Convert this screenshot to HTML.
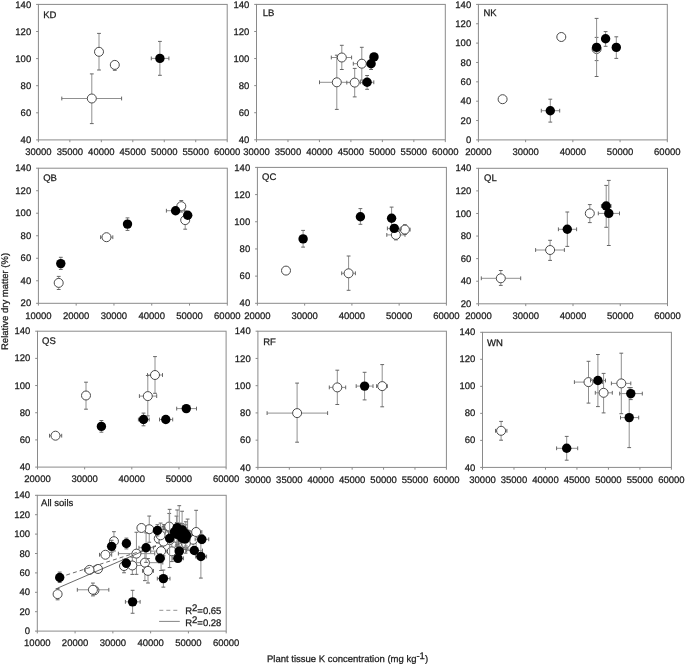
<!DOCTYPE html>
<html><head><meta charset="utf-8"><title>Relative dry matter vs plant tissue K</title>
<style>
html,body{margin:0;padding:0;background:#fff;}
body{width:685px;height:665px;overflow:hidden;}
svg{display:block;font-family:"Liberation Sans",sans-serif;text-rendering:geometricPrecision;will-change:transform;}
text{fill:#1a1a1a;stroke:#1a1a1a;stroke-width:0.25px;}
.ax{fill:none;stroke:#8a8a8a;stroke-width:1;}
.tk{stroke:#8a8a8a;stroke-width:1;}
.eb{stroke:#909090;stroke-width:1;}
.cp{stroke:#666666;stroke-width:1;}
.oc{fill:#fff;stroke:#4a4a4a;stroke-width:1;}
.fc{fill:#000;stroke:none;}
</style></head>
<body>
<svg width="685" height="665" viewBox="0 0 685 665">
<rect width="685" height="665" fill="#fff"/>
<rect x="38.4" y="4.4" width="188.8" height="135.5" class="ax"/>
<line x1="36.1" y1="139.9" x2="38.4" y2="139.9" class="tk"/>
<text x="31.2" y="143" text-anchor="end" font-size="9.5">40</text>
<line x1="36.1" y1="112.8" x2="38.4" y2="112.8" class="tk"/>
<text x="31.2" y="115.9" text-anchor="end" font-size="9.5">60</text>
<line x1="36.1" y1="85.7" x2="38.4" y2="85.7" class="tk"/>
<text x="31.2" y="88.8" text-anchor="end" font-size="9.5">80</text>
<line x1="36.1" y1="58.6" x2="38.4" y2="58.6" class="tk"/>
<text x="31.2" y="61.7" text-anchor="end" font-size="9.5">100</text>
<line x1="36.1" y1="31.5" x2="38.4" y2="31.5" class="tk"/>
<text x="31.2" y="34.6" text-anchor="end" font-size="9.5">120</text>
<line x1="36.1" y1="4.4" x2="38.4" y2="4.4" class="tk"/>
<text x="31.2" y="7.5" text-anchor="end" font-size="9.5">140</text>
<line x1="38.4" y1="139.9" x2="38.4" y2="142.2" class="tk"/>
<text x="38.4" y="155.1" text-anchor="middle" font-size="9.5">30000</text>
<line x1="69.87" y1="139.9" x2="69.87" y2="142.2" class="tk"/>
<text x="69.87" y="155.1" text-anchor="middle" font-size="9.5">35000</text>
<line x1="101.33" y1="139.9" x2="101.33" y2="142.2" class="tk"/>
<text x="101.33" y="155.1" text-anchor="middle" font-size="9.5">40000</text>
<line x1="132.8" y1="139.9" x2="132.8" y2="142.2" class="tk"/>
<text x="132.8" y="155.1" text-anchor="middle" font-size="9.5">45000</text>
<line x1="164.27" y1="139.9" x2="164.27" y2="142.2" class="tk"/>
<text x="164.27" y="155.1" text-anchor="middle" font-size="9.5">50000</text>
<line x1="195.73" y1="139.9" x2="195.73" y2="142.2" class="tk"/>
<text x="195.73" y="155.1" text-anchor="middle" font-size="9.5">55000</text>
<line x1="227.2" y1="139.9" x2="227.2" y2="142.2" class="tk"/>
<text x="227.2" y="155.1" text-anchor="middle" font-size="9.5">60000</text>
<text x="43.25" y="17.5" text-anchor="start" font-size="9.5">KD</text>
<line x1="99" y1="33.4" x2="99" y2="70" class="eb"/><line x1="97.1" y1="33.4" x2="100.9" y2="33.4" class="cp"/><line x1="97.1" y1="70" x2="100.9" y2="70" class="cp"/>
<line x1="114.8" y1="64.9" x2="114.8" y2="70.3" class="eb"/><line x1="112.9" y1="64.9" x2="116.7" y2="64.9" class="cp"/><line x1="112.9" y1="70.3" x2="116.7" y2="70.3" class="cp"/>
<line x1="91.8" y1="73.9" x2="91.8" y2="123.6" class="eb"/><line x1="89.9" y1="73.9" x2="93.7" y2="73.9" class="cp"/><line x1="89.9" y1="123.6" x2="93.7" y2="123.6" class="cp"/><line x1="61.8" y1="98.5" x2="121.6" y2="98.5" class="eb"/><line x1="61.8" y1="96.6" x2="61.8" y2="100.4" class="cp"/><line x1="121.6" y1="96.6" x2="121.6" y2="100.4" class="cp"/>
<circle cx="99" cy="51.8" r="4.5" class="oc"/>
<circle cx="114.8" cy="64.9" r="4.5" class="oc"/>
<circle cx="91.8" cy="98.5" r="4.5" class="oc"/>
<line x1="159.9" y1="41.4" x2="159.9" y2="75.3" class="eb"/><line x1="158" y1="41.4" x2="161.8" y2="41.4" class="cp"/><line x1="158" y1="75.3" x2="161.8" y2="75.3" class="cp"/><line x1="151.3" y1="58.4" x2="168.9" y2="58.4" class="eb"/><line x1="151.3" y1="56.5" x2="151.3" y2="60.3" class="cp"/><line x1="168.9" y1="56.5" x2="168.9" y2="60.3" class="cp"/>
<circle cx="159.9" cy="58.4" r="4.7" class="fc"/>
<rect x="256.5" y="4.4" width="188.8" height="135.4" class="ax"/>
<line x1="254.2" y1="139.8" x2="256.5" y2="139.8" class="tk"/>
<text x="249.3" y="142.9" text-anchor="end" font-size="9.5">40</text>
<line x1="254.2" y1="112.72" x2="256.5" y2="112.72" class="tk"/>
<text x="249.3" y="115.82" text-anchor="end" font-size="9.5">60</text>
<line x1="254.2" y1="85.64" x2="256.5" y2="85.64" class="tk"/>
<text x="249.3" y="88.74" text-anchor="end" font-size="9.5">80</text>
<line x1="254.2" y1="58.56" x2="256.5" y2="58.56" class="tk"/>
<text x="249.3" y="61.66" text-anchor="end" font-size="9.5">100</text>
<line x1="254.2" y1="31.48" x2="256.5" y2="31.48" class="tk"/>
<text x="249.3" y="34.58" text-anchor="end" font-size="9.5">120</text>
<line x1="254.2" y1="4.4" x2="256.5" y2="4.4" class="tk"/>
<text x="249.3" y="7.5" text-anchor="end" font-size="9.5">140</text>
<line x1="256.5" y1="139.8" x2="256.5" y2="142.1" class="tk"/>
<text x="256.5" y="155" text-anchor="middle" font-size="9.5">30000</text>
<line x1="287.97" y1="139.8" x2="287.97" y2="142.1" class="tk"/>
<text x="287.97" y="155" text-anchor="middle" font-size="9.5">35000</text>
<line x1="319.43" y1="139.8" x2="319.43" y2="142.1" class="tk"/>
<text x="319.43" y="155" text-anchor="middle" font-size="9.5">40000</text>
<line x1="350.9" y1="139.8" x2="350.9" y2="142.1" class="tk"/>
<text x="350.9" y="155" text-anchor="middle" font-size="9.5">45000</text>
<line x1="382.37" y1="139.8" x2="382.37" y2="142.1" class="tk"/>
<text x="382.37" y="155" text-anchor="middle" font-size="9.5">50000</text>
<line x1="413.83" y1="139.8" x2="413.83" y2="142.1" class="tk"/>
<text x="413.83" y="155" text-anchor="middle" font-size="9.5">55000</text>
<line x1="445.3" y1="139.8" x2="445.3" y2="142.1" class="tk"/>
<text x="445.3" y="155" text-anchor="middle" font-size="9.5">60000</text>
<text x="262.7" y="15.8" text-anchor="start" font-size="9.5">LB</text>
<line x1="336.8" y1="55.2" x2="336.8" y2="109.4" class="eb"/><line x1="334.9" y1="55.2" x2="338.7" y2="55.2" class="cp"/><line x1="334.9" y1="109.4" x2="338.7" y2="109.4" class="cp"/><line x1="319.5" y1="82.3" x2="354.1" y2="82.3" class="eb"/><line x1="319.5" y1="80.4" x2="319.5" y2="84.2" class="cp"/><line x1="354.1" y1="80.4" x2="354.1" y2="84.2" class="cp"/>
<line x1="341.8" y1="45.3" x2="341.8" y2="69.5" class="eb"/><line x1="339.9" y1="45.3" x2="343.7" y2="45.3" class="cp"/><line x1="339.9" y1="69.5" x2="343.7" y2="69.5" class="cp"/><line x1="331.3" y1="57.5" x2="351.6" y2="57.5" class="eb"/><line x1="331.3" y1="55.6" x2="331.3" y2="59.4" class="cp"/><line x1="351.6" y1="55.6" x2="351.6" y2="59.4" class="cp"/>
<line x1="354.7" y1="68.4" x2="354.7" y2="96.9" class="eb"/><line x1="352.8" y1="68.4" x2="356.6" y2="68.4" class="cp"/><line x1="352.8" y1="96.9" x2="356.6" y2="96.9" class="cp"/><line x1="346.8" y1="82.6" x2="362.6" y2="82.6" class="eb"/><line x1="346.8" y1="80.7" x2="346.8" y2="84.5" class="cp"/><line x1="362.6" y1="80.7" x2="362.6" y2="84.5" class="cp"/>
<line x1="361.8" y1="47.3" x2="361.8" y2="80.1" class="eb"/><line x1="359.9" y1="47.3" x2="363.7" y2="47.3" class="cp"/><line x1="359.9" y1="80.1" x2="363.7" y2="80.1" class="cp"/><line x1="353.3" y1="63.7" x2="370.3" y2="63.7" class="eb"/><line x1="353.3" y1="61.8" x2="353.3" y2="65.6" class="cp"/><line x1="370.3" y1="61.8" x2="370.3" y2="65.6" class="cp"/>
<circle cx="336.8" cy="82.3" r="4.5" class="oc"/>
<circle cx="341.8" cy="57.5" r="4.5" class="oc"/>
<circle cx="354.7" cy="82.6" r="4.5" class="oc"/>
<circle cx="361.8" cy="63.7" r="4.5" class="oc"/>
<line x1="367.1" y1="75.5" x2="367.1" y2="89.3" class="eb"/><line x1="365.2" y1="75.5" x2="369" y2="75.5" class="cp"/><line x1="365.2" y1="89.3" x2="369" y2="89.3" class="cp"/><line x1="360.4" y1="82.3" x2="373.8" y2="82.3" class="eb"/><line x1="360.4" y1="80.4" x2="360.4" y2="84.2" class="cp"/><line x1="373.8" y1="80.4" x2="373.8" y2="84.2" class="cp"/>
<line x1="371.1" y1="57.9" x2="371.1" y2="69.5" class="eb"/><line x1="369.2" y1="57.9" x2="373" y2="57.9" class="cp"/><line x1="369.2" y1="69.5" x2="373" y2="69.5" class="cp"/>

<circle cx="367.1" cy="82.3" r="4.7" class="fc"/>
<circle cx="371.1" cy="63.7" r="4.7" class="fc"/>
<circle cx="374" cy="56.9" r="4.7" class="fc"/>
<rect x="478.4" y="4.4" width="188.9" height="135.5" class="ax"/>
<line x1="476.1" y1="139.9" x2="478.4" y2="139.9" class="tk"/>
<text x="471.2" y="143" text-anchor="end" font-size="9.5">0</text>
<line x1="476.1" y1="120.54" x2="478.4" y2="120.54" class="tk"/>
<text x="471.2" y="123.64" text-anchor="end" font-size="9.5">20</text>
<line x1="476.1" y1="101.19" x2="478.4" y2="101.19" class="tk"/>
<text x="471.2" y="104.29" text-anchor="end" font-size="9.5">40</text>
<line x1="476.1" y1="81.83" x2="478.4" y2="81.83" class="tk"/>
<text x="471.2" y="84.93" text-anchor="end" font-size="9.5">60</text>
<line x1="476.1" y1="62.47" x2="478.4" y2="62.47" class="tk"/>
<text x="471.2" y="65.57" text-anchor="end" font-size="9.5">80</text>
<line x1="476.1" y1="43.11" x2="478.4" y2="43.11" class="tk"/>
<text x="471.2" y="46.21" text-anchor="end" font-size="9.5">100</text>
<line x1="476.1" y1="23.76" x2="478.4" y2="23.76" class="tk"/>
<text x="471.2" y="26.86" text-anchor="end" font-size="9.5">120</text>
<line x1="476.1" y1="4.4" x2="478.4" y2="4.4" class="tk"/>
<text x="471.2" y="7.5" text-anchor="end" font-size="9.5">140</text>
<line x1="478.4" y1="139.9" x2="478.4" y2="142.2" class="tk"/>
<text x="478.4" y="155.1" text-anchor="middle" font-size="9.5">20000</text>
<line x1="525.62" y1="139.9" x2="525.62" y2="142.2" class="tk"/>
<text x="525.62" y="155.1" text-anchor="middle" font-size="9.5">30000</text>
<line x1="572.85" y1="139.9" x2="572.85" y2="142.2" class="tk"/>
<text x="572.85" y="155.1" text-anchor="middle" font-size="9.5">40000</text>
<line x1="620.07" y1="139.9" x2="620.07" y2="142.2" class="tk"/>
<text x="620.07" y="155.1" text-anchor="middle" font-size="9.5">50000</text>
<line x1="667.3" y1="139.9" x2="667.3" y2="142.2" class="tk"/>
<text x="667.3" y="155.1" text-anchor="middle" font-size="9.5">60000</text>
<text x="483.5" y="15.8" text-anchor="start" font-size="9.5">NK</text>
<line x1="596.6" y1="37.4" x2="596.6" y2="60.6" class="eb"/><line x1="594.7" y1="37.4" x2="598.5" y2="37.4" class="cp"/><line x1="594.7" y1="60.6" x2="598.5" y2="60.6" class="cp"/>


<circle cx="596.6" cy="49" r="4.5" class="oc"/>
<circle cx="561.3" cy="37" r="4.5" class="oc"/>
<circle cx="502.6" cy="99.2" r="4.5" class="oc"/>
<line x1="596.6" y1="18.4" x2="596.6" y2="76.5" class="eb"/><line x1="594.7" y1="18.4" x2="598.5" y2="18.4" class="cp"/><line x1="594.7" y1="76.5" x2="598.5" y2="76.5" class="cp"/>
<line x1="605.6" y1="31.6" x2="605.6" y2="46.3" class="eb"/><line x1="603.7" y1="31.6" x2="607.5" y2="31.6" class="cp"/><line x1="603.7" y1="46.3" x2="607.5" y2="46.3" class="cp"/>
<line x1="616.3" y1="36.8" x2="616.3" y2="58.4" class="eb"/><line x1="614.4" y1="36.8" x2="618.2" y2="36.8" class="cp"/><line x1="614.4" y1="58.4" x2="618.2" y2="58.4" class="cp"/>
<line x1="550.3" y1="99.2" x2="550.3" y2="122.1" class="eb"/><line x1="548.4" y1="99.2" x2="552.2" y2="99.2" class="cp"/><line x1="548.4" y1="122.1" x2="552.2" y2="122.1" class="cp"/><line x1="541.3" y1="110.7" x2="559.7" y2="110.7" class="eb"/><line x1="541.3" y1="108.8" x2="541.3" y2="112.6" class="cp"/><line x1="559.7" y1="108.8" x2="559.7" y2="112.6" class="cp"/>
<circle cx="596.6" cy="47.4" r="4.7" class="fc"/>
<circle cx="605.6" cy="38.7" r="4.7" class="fc"/>
<circle cx="616.3" cy="47.4" r="4.7" class="fc"/>
<circle cx="550.3" cy="110.7" r="4.7" class="fc"/>
<rect x="38.4" y="168.2" width="188.9" height="135.1" class="ax"/>
<line x1="36.1" y1="303.3" x2="38.4" y2="303.3" class="tk"/>
<text x="31.2" y="306.4" text-anchor="end" font-size="9.5">20</text>
<line x1="36.1" y1="280.78" x2="38.4" y2="280.78" class="tk"/>
<text x="31.2" y="283.88" text-anchor="end" font-size="9.5">40</text>
<line x1="36.1" y1="258.27" x2="38.4" y2="258.27" class="tk"/>
<text x="31.2" y="261.37" text-anchor="end" font-size="9.5">60</text>
<line x1="36.1" y1="235.75" x2="38.4" y2="235.75" class="tk"/>
<text x="31.2" y="238.85" text-anchor="end" font-size="9.5">80</text>
<line x1="36.1" y1="213.23" x2="38.4" y2="213.23" class="tk"/>
<text x="31.2" y="216.33" text-anchor="end" font-size="9.5">100</text>
<line x1="36.1" y1="190.72" x2="38.4" y2="190.72" class="tk"/>
<text x="31.2" y="193.82" text-anchor="end" font-size="9.5">120</text>
<line x1="36.1" y1="168.2" x2="38.4" y2="168.2" class="tk"/>
<text x="31.2" y="171.3" text-anchor="end" font-size="9.5">140</text>
<line x1="38.4" y1="303.3" x2="38.4" y2="305.6" class="tk"/>
<text x="38.4" y="318.5" text-anchor="middle" font-size="9.5">10000</text>
<line x1="76.18" y1="303.3" x2="76.18" y2="305.6" class="tk"/>
<text x="76.18" y="318.5" text-anchor="middle" font-size="9.5">20000</text>
<line x1="113.96" y1="303.3" x2="113.96" y2="305.6" class="tk"/>
<text x="113.96" y="318.5" text-anchor="middle" font-size="9.5">30000</text>
<line x1="151.74" y1="303.3" x2="151.74" y2="305.6" class="tk"/>
<text x="151.74" y="318.5" text-anchor="middle" font-size="9.5">40000</text>
<line x1="189.52" y1="303.3" x2="189.52" y2="305.6" class="tk"/>
<text x="189.52" y="318.5" text-anchor="middle" font-size="9.5">50000</text>
<line x1="227.3" y1="303.3" x2="227.3" y2="305.6" class="tk"/>
<text x="227.3" y="318.5" text-anchor="middle" font-size="9.5">60000</text>
<text x="43.2" y="181.2" text-anchor="start" font-size="9.5">QB</text>
<line x1="181.3" y1="200.5" x2="181.3" y2="212" class="eb"/><line x1="179.4" y1="200.5" x2="183.2" y2="200.5" class="cp"/><line x1="179.4" y1="212" x2="183.2" y2="212" class="cp"/>
<line x1="185.2" y1="211" x2="185.2" y2="229.2" class="eb"/><line x1="183.3" y1="211" x2="187.1" y2="211" class="cp"/><line x1="183.3" y1="229.2" x2="187.1" y2="229.2" class="cp"/>
<line x1="100.6" y1="237.2" x2="112.8" y2="237.2" class="eb"/><line x1="100.6" y1="235.3" x2="100.6" y2="239.1" class="cp"/><line x1="112.8" y1="235.3" x2="112.8" y2="239.1" class="cp"/>
<line x1="58.7" y1="276.4" x2="58.7" y2="289.5" class="eb"/><line x1="56.8" y1="276.4" x2="60.6" y2="276.4" class="cp"/><line x1="56.8" y1="289.5" x2="60.6" y2="289.5" class="cp"/>
<circle cx="181.3" cy="206.2" r="4.5" class="oc"/>
<circle cx="185.2" cy="220.1" r="4.5" class="oc"/>
<circle cx="106.5" cy="237.2" r="4.5" class="oc"/>
<circle cx="58.7" cy="282.9" r="4.5" class="oc"/>
<line x1="166.4" y1="210.7" x2="184.8" y2="210.7" class="eb"/><line x1="166.4" y1="208.8" x2="166.4" y2="212.6" class="cp"/><line x1="184.8" y1="208.8" x2="184.8" y2="212.6" class="cp"/>

<line x1="127.5" y1="217.9" x2="127.5" y2="230.4" class="eb"/><line x1="125.6" y1="217.9" x2="129.4" y2="217.9" class="cp"/><line x1="125.6" y1="230.4" x2="129.4" y2="230.4" class="cp"/>
<line x1="60.8" y1="257.3" x2="60.8" y2="269.4" class="eb"/><line x1="58.9" y1="257.3" x2="62.7" y2="257.3" class="cp"/><line x1="58.9" y1="269.4" x2="62.7" y2="269.4" class="cp"/>
<circle cx="175.6" cy="210.7" r="4.7" class="fc"/>
<circle cx="187.7" cy="215.2" r="4.7" class="fc"/>
<circle cx="127.5" cy="224.1" r="4.7" class="fc"/>
<circle cx="60.8" cy="263.6" r="4.7" class="fc"/>
<rect x="257.4" y="167.4" width="189" height="135.9" class="ax"/>
<line x1="255.1" y1="303.3" x2="257.4" y2="303.3" class="tk"/>
<text x="250.2" y="306.4" text-anchor="end" font-size="9.5">40</text>
<line x1="255.1" y1="276.12" x2="257.4" y2="276.12" class="tk"/>
<text x="250.2" y="279.22" text-anchor="end" font-size="9.5">60</text>
<line x1="255.1" y1="248.94" x2="257.4" y2="248.94" class="tk"/>
<text x="250.2" y="252.04" text-anchor="end" font-size="9.5">80</text>
<line x1="255.1" y1="221.76" x2="257.4" y2="221.76" class="tk"/>
<text x="250.2" y="224.86" text-anchor="end" font-size="9.5">100</text>
<line x1="255.1" y1="194.58" x2="257.4" y2="194.58" class="tk"/>
<text x="250.2" y="197.68" text-anchor="end" font-size="9.5">120</text>
<line x1="255.1" y1="167.4" x2="257.4" y2="167.4" class="tk"/>
<text x="250.2" y="170.5" text-anchor="end" font-size="9.5">140</text>
<line x1="257.4" y1="303.3" x2="257.4" y2="305.6" class="tk"/>
<text x="257.4" y="318.5" text-anchor="middle" font-size="9.5">20000</text>
<line x1="304.65" y1="303.3" x2="304.65" y2="305.6" class="tk"/>
<text x="304.65" y="318.5" text-anchor="middle" font-size="9.5">30000</text>
<line x1="351.9" y1="303.3" x2="351.9" y2="305.6" class="tk"/>
<text x="351.9" y="318.5" text-anchor="middle" font-size="9.5">40000</text>
<line x1="399.15" y1="303.3" x2="399.15" y2="305.6" class="tk"/>
<text x="399.15" y="318.5" text-anchor="middle" font-size="9.5">50000</text>
<line x1="446.4" y1="303.3" x2="446.4" y2="305.6" class="tk"/>
<text x="446.4" y="318.5" text-anchor="middle" font-size="9.5">60000</text>
<text x="262.1" y="180.4" text-anchor="start" font-size="9.5">QC</text>
<line x1="404.9" y1="224.7" x2="404.9" y2="234.5" class="eb"/><line x1="403" y1="224.7" x2="406.8" y2="224.7" class="cp"/><line x1="403" y1="234.5" x2="406.8" y2="234.5" class="cp"/><line x1="399.7" y1="229.6" x2="410.1" y2="229.6" class="eb"/><line x1="399.7" y1="227.7" x2="399.7" y2="231.5" class="cp"/><line x1="410.1" y1="227.7" x2="410.1" y2="231.5" class="cp"/>
<line x1="395.9" y1="229.9" x2="395.9" y2="239.9" class="eb"/><line x1="394" y1="229.9" x2="397.8" y2="229.9" class="cp"/><line x1="394" y1="239.9" x2="397.8" y2="239.9" class="cp"/><line x1="386.8" y1="234.9" x2="405" y2="234.9" class="eb"/><line x1="386.8" y1="233" x2="386.8" y2="236.8" class="cp"/><line x1="405" y1="233" x2="405" y2="236.8" class="cp"/>

<line x1="348.6" y1="256" x2="348.6" y2="290.3" class="eb"/><line x1="346.7" y1="256" x2="350.5" y2="256" class="cp"/><line x1="346.7" y1="290.3" x2="350.5" y2="290.3" class="cp"/><line x1="341.7" y1="273.3" x2="355.4" y2="273.3" class="eb"/><line x1="341.7" y1="271.4" x2="341.7" y2="275.2" class="cp"/><line x1="355.4" y1="271.4" x2="355.4" y2="275.2" class="cp"/>
<circle cx="404.9" cy="229.6" r="4.5" class="oc"/>
<circle cx="395.9" cy="234.9" r="4.5" class="oc"/>
<circle cx="286" cy="270.6" r="4.5" class="oc"/>
<circle cx="348.6" cy="273.3" r="4.5" class="oc"/>
<line x1="391.6" y1="207.1" x2="391.6" y2="229.5" class="eb"/><line x1="389.7" y1="207.1" x2="393.5" y2="207.1" class="cp"/><line x1="389.7" y1="229.5" x2="393.5" y2="229.5" class="cp"/>
<line x1="387.4" y1="228.4" x2="401.2" y2="228.4" class="eb"/><line x1="387.4" y1="226.5" x2="387.4" y2="230.3" class="cp"/><line x1="401.2" y1="226.5" x2="401.2" y2="230.3" class="cp"/>
<line x1="360.4" y1="208.6" x2="360.4" y2="224.3" class="eb"/><line x1="358.5" y1="208.6" x2="362.3" y2="208.6" class="cp"/><line x1="358.5" y1="224.3" x2="362.3" y2="224.3" class="cp"/>
<line x1="303.1" y1="230.4" x2="303.1" y2="247.1" class="eb"/><line x1="301.2" y1="230.4" x2="305" y2="230.4" class="cp"/><line x1="301.2" y1="247.1" x2="305" y2="247.1" class="cp"/>
<circle cx="391.6" cy="218.3" r="4.7" class="fc"/>
<circle cx="394.3" cy="228.4" r="4.7" class="fc"/>
<circle cx="360.4" cy="216.7" r="4.7" class="fc"/>
<circle cx="303.1" cy="238.9" r="4.7" class="fc"/>
<rect x="478.5" y="168.3" width="189" height="135.5" class="ax"/>
<line x1="476.2" y1="303.8" x2="478.5" y2="303.8" class="tk"/>
<text x="471.3" y="306.9" text-anchor="end" font-size="9.5">20</text>
<line x1="476.2" y1="281.22" x2="478.5" y2="281.22" class="tk"/>
<text x="471.3" y="284.32" text-anchor="end" font-size="9.5">40</text>
<line x1="476.2" y1="258.63" x2="478.5" y2="258.63" class="tk"/>
<text x="471.3" y="261.73" text-anchor="end" font-size="9.5">60</text>
<line x1="476.2" y1="236.05" x2="478.5" y2="236.05" class="tk"/>
<text x="471.3" y="239.15" text-anchor="end" font-size="9.5">80</text>
<line x1="476.2" y1="213.47" x2="478.5" y2="213.47" class="tk"/>
<text x="471.3" y="216.57" text-anchor="end" font-size="9.5">100</text>
<line x1="476.2" y1="190.88" x2="478.5" y2="190.88" class="tk"/>
<text x="471.3" y="193.98" text-anchor="end" font-size="9.5">120</text>
<line x1="476.2" y1="168.3" x2="478.5" y2="168.3" class="tk"/>
<text x="471.3" y="171.4" text-anchor="end" font-size="9.5">140</text>
<line x1="478.5" y1="303.8" x2="478.5" y2="306.1" class="tk"/>
<text x="478.5" y="319" text-anchor="middle" font-size="9.5">20000</text>
<line x1="525.75" y1="303.8" x2="525.75" y2="306.1" class="tk"/>
<text x="525.75" y="319" text-anchor="middle" font-size="9.5">30000</text>
<line x1="573" y1="303.8" x2="573" y2="306.1" class="tk"/>
<text x="573" y="319" text-anchor="middle" font-size="9.5">40000</text>
<line x1="620.25" y1="303.8" x2="620.25" y2="306.1" class="tk"/>
<text x="620.25" y="319" text-anchor="middle" font-size="9.5">50000</text>
<line x1="667.5" y1="303.8" x2="667.5" y2="306.1" class="tk"/>
<text x="667.5" y="319" text-anchor="middle" font-size="9.5">60000</text>
<text x="484.1" y="181.2" text-anchor="start" font-size="9.5">QL</text>
<line x1="589.8" y1="204.6" x2="589.8" y2="222.6" class="eb"/><line x1="587.9" y1="204.6" x2="591.7" y2="204.6" class="cp"/><line x1="587.9" y1="222.6" x2="591.7" y2="222.6" class="cp"/>
<line x1="550.1" y1="240.3" x2="550.1" y2="260.4" class="eb"/><line x1="548.2" y1="240.3" x2="552" y2="240.3" class="cp"/><line x1="548.2" y1="260.4" x2="552" y2="260.4" class="cp"/><line x1="535.6" y1="250" x2="564.4" y2="250" class="eb"/><line x1="535.6" y1="248.1" x2="535.6" y2="251.9" class="cp"/><line x1="564.4" y1="248.1" x2="564.4" y2="251.9" class="cp"/>
<line x1="500.8" y1="270.5" x2="500.8" y2="285.4" class="eb"/><line x1="498.9" y1="270.5" x2="502.7" y2="270.5" class="cp"/><line x1="498.9" y1="285.4" x2="502.7" y2="285.4" class="cp"/><line x1="481.3" y1="278.3" x2="520.7" y2="278.3" class="eb"/><line x1="481.3" y1="276.4" x2="481.3" y2="280.2" class="cp"/><line x1="520.7" y1="276.4" x2="520.7" y2="280.2" class="cp"/>
<circle cx="589.8" cy="213.4" r="4.5" class="oc"/>
<circle cx="550.1" cy="250" r="4.5" class="oc"/>
<circle cx="500.8" cy="278.3" r="4.5" class="oc"/>
<line x1="606.2" y1="185.4" x2="606.2" y2="227.3" class="eb"/><line x1="604.3" y1="185.4" x2="608.1" y2="185.4" class="cp"/><line x1="604.3" y1="227.3" x2="608.1" y2="227.3" class="cp"/><line x1="601.4" y1="206" x2="611" y2="206" class="eb"/><line x1="601.4" y1="204.1" x2="601.4" y2="207.9" class="cp"/><line x1="611" y1="204.1" x2="611" y2="207.9" class="cp"/>
<line x1="608.8" y1="180.4" x2="608.8" y2="245.5" class="eb"/><line x1="606.9" y1="180.4" x2="610.7" y2="180.4" class="cp"/><line x1="606.9" y1="245.5" x2="610.7" y2="245.5" class="cp"/><line x1="598.3" y1="213.4" x2="619.5" y2="213.4" class="eb"/><line x1="598.3" y1="211.5" x2="598.3" y2="215.3" class="cp"/><line x1="619.5" y1="211.5" x2="619.5" y2="215.3" class="cp"/>
<line x1="567.3" y1="212" x2="567.3" y2="246.4" class="eb"/><line x1="565.4" y1="212" x2="569.2" y2="212" class="cp"/><line x1="565.4" y1="246.4" x2="569.2" y2="246.4" class="cp"/><line x1="558.4" y1="229.3" x2="576.6" y2="229.3" class="eb"/><line x1="558.4" y1="227.4" x2="558.4" y2="231.2" class="cp"/><line x1="576.6" y1="227.4" x2="576.6" y2="231.2" class="cp"/>
<circle cx="606.2" cy="206" r="4.7" class="fc"/>
<circle cx="608.8" cy="213.4" r="4.7" class="fc"/>
<circle cx="567.3" cy="229.3" r="4.7" class="fc"/>
<rect x="37.5" y="331.2" width="188.6" height="135.9" class="ax"/>
<line x1="35.2" y1="467.1" x2="37.5" y2="467.1" class="tk"/>
<text x="30.3" y="470.2" text-anchor="end" font-size="9.5">40</text>
<line x1="35.2" y1="439.92" x2="37.5" y2="439.92" class="tk"/>
<text x="30.3" y="443.02" text-anchor="end" font-size="9.5">60</text>
<line x1="35.2" y1="412.74" x2="37.5" y2="412.74" class="tk"/>
<text x="30.3" y="415.84" text-anchor="end" font-size="9.5">80</text>
<line x1="35.2" y1="385.56" x2="37.5" y2="385.56" class="tk"/>
<text x="30.3" y="388.66" text-anchor="end" font-size="9.5">100</text>
<line x1="35.2" y1="358.38" x2="37.5" y2="358.38" class="tk"/>
<text x="30.3" y="361.48" text-anchor="end" font-size="9.5">120</text>
<line x1="35.2" y1="331.2" x2="37.5" y2="331.2" class="tk"/>
<text x="30.3" y="334.3" text-anchor="end" font-size="9.5">140</text>
<line x1="37.5" y1="467.1" x2="37.5" y2="469.4" class="tk"/>
<text x="37.5" y="482.3" text-anchor="middle" font-size="9.5">20000</text>
<line x1="84.65" y1="467.1" x2="84.65" y2="469.4" class="tk"/>
<text x="84.65" y="482.3" text-anchor="middle" font-size="9.5">30000</text>
<line x1="131.8" y1="467.1" x2="131.8" y2="469.4" class="tk"/>
<text x="131.8" y="482.3" text-anchor="middle" font-size="9.5">40000</text>
<line x1="178.95" y1="467.1" x2="178.95" y2="469.4" class="tk"/>
<text x="178.95" y="482.3" text-anchor="middle" font-size="9.5">50000</text>
<line x1="226.1" y1="467.1" x2="226.1" y2="469.4" class="tk"/>
<text x="226.1" y="482.3" text-anchor="middle" font-size="9.5">60000</text>
<text x="42.1" y="344.4" text-anchor="start" font-size="9.5">QS</text>
<line x1="155" y1="356.6" x2="155" y2="393.3" class="eb"/><line x1="153.1" y1="356.6" x2="156.9" y2="356.6" class="cp"/><line x1="153.1" y1="393.3" x2="156.9" y2="393.3" class="cp"/><line x1="147.5" y1="375" x2="162.5" y2="375" class="eb"/><line x1="147.5" y1="373.1" x2="147.5" y2="376.9" class="cp"/><line x1="162.5" y1="373.1" x2="162.5" y2="376.9" class="cp"/>
<line x1="147.8" y1="375.5" x2="147.8" y2="415.9" class="eb"/><line x1="145.9" y1="375.5" x2="149.7" y2="375.5" class="cp"/><line x1="145.9" y1="415.9" x2="149.7" y2="415.9" class="cp"/><line x1="139.4" y1="396.1" x2="156.7" y2="396.1" class="eb"/><line x1="139.4" y1="394.2" x2="139.4" y2="398" class="cp"/><line x1="156.7" y1="394.2" x2="156.7" y2="398" class="cp"/>
<line x1="86" y1="382.2" x2="86" y2="409.2" class="eb"/><line x1="84.1" y1="382.2" x2="87.9" y2="382.2" class="cp"/><line x1="84.1" y1="409.2" x2="87.9" y2="409.2" class="cp"/>
<line x1="49.5" y1="435.7" x2="61.7" y2="435.7" class="eb"/><line x1="49.5" y1="433.8" x2="49.5" y2="437.6" class="cp"/><line x1="61.7" y1="433.8" x2="61.7" y2="437.6" class="cp"/>
<circle cx="155" cy="375" r="4.5" class="oc"/>
<circle cx="147.8" cy="396.1" r="4.5" class="oc"/>
<circle cx="86" cy="395.5" r="4.5" class="oc"/>
<circle cx="55.5" cy="435.7" r="4.5" class="oc"/>
<line x1="143.5" y1="413.1" x2="143.5" y2="425.8" class="eb"/><line x1="141.6" y1="413.1" x2="145.4" y2="413.1" class="cp"/><line x1="141.6" y1="425.8" x2="145.4" y2="425.8" class="cp"/><line x1="138.4" y1="419.5" x2="149.2" y2="419.5" class="eb"/><line x1="138.4" y1="417.6" x2="138.4" y2="421.4" class="cp"/><line x1="149.2" y1="417.6" x2="149.2" y2="421.4" class="cp"/>
<line x1="159.5" y1="419.5" x2="172.7" y2="419.5" class="eb"/><line x1="159.5" y1="417.6" x2="159.5" y2="421.4" class="cp"/><line x1="172.7" y1="417.6" x2="172.7" y2="421.4" class="cp"/>
<line x1="176.7" y1="408.6" x2="196.5" y2="408.6" class="eb"/><line x1="176.7" y1="406.7" x2="176.7" y2="410.5" class="cp"/><line x1="196.5" y1="406.7" x2="196.5" y2="410.5" class="cp"/>
<line x1="101.4" y1="420.5" x2="101.4" y2="432.2" class="eb"/><line x1="99.5" y1="420.5" x2="103.3" y2="420.5" class="cp"/><line x1="99.5" y1="432.2" x2="103.3" y2="432.2" class="cp"/>
<circle cx="143.5" cy="419.5" r="4.7" class="fc"/>
<circle cx="165.8" cy="419.5" r="4.7" class="fc"/>
<circle cx="186.3" cy="408.6" r="4.7" class="fc"/>
<circle cx="101.4" cy="426.4" r="4.7" class="fc"/>
<rect x="257.9" y="331.2" width="188.5" height="136.2" class="ax"/>
<line x1="255.6" y1="467.4" x2="257.9" y2="467.4" class="tk"/>
<text x="250.7" y="470.5" text-anchor="end" font-size="9.5">40</text>
<line x1="255.6" y1="440.16" x2="257.9" y2="440.16" class="tk"/>
<text x="250.7" y="443.26" text-anchor="end" font-size="9.5">60</text>
<line x1="255.6" y1="412.92" x2="257.9" y2="412.92" class="tk"/>
<text x="250.7" y="416.02" text-anchor="end" font-size="9.5">80</text>
<line x1="255.6" y1="385.68" x2="257.9" y2="385.68" class="tk"/>
<text x="250.7" y="388.78" text-anchor="end" font-size="9.5">100</text>
<line x1="255.6" y1="358.44" x2="257.9" y2="358.44" class="tk"/>
<text x="250.7" y="361.54" text-anchor="end" font-size="9.5">120</text>
<line x1="255.6" y1="331.2" x2="257.9" y2="331.2" class="tk"/>
<text x="250.7" y="334.3" text-anchor="end" font-size="9.5">140</text>
<line x1="257.9" y1="467.4" x2="257.9" y2="469.7" class="tk"/>
<text x="257.9" y="482.6" text-anchor="middle" font-size="9.5">30000</text>
<line x1="289.32" y1="467.4" x2="289.32" y2="469.7" class="tk"/>
<text x="289.32" y="482.6" text-anchor="middle" font-size="9.5">35000</text>
<line x1="320.73" y1="467.4" x2="320.73" y2="469.7" class="tk"/>
<text x="320.73" y="482.6" text-anchor="middle" font-size="9.5">40000</text>
<line x1="352.15" y1="467.4" x2="352.15" y2="469.7" class="tk"/>
<text x="352.15" y="482.6" text-anchor="middle" font-size="9.5">45000</text>
<line x1="383.57" y1="467.4" x2="383.57" y2="469.7" class="tk"/>
<text x="383.57" y="482.6" text-anchor="middle" font-size="9.5">50000</text>
<line x1="414.98" y1="467.4" x2="414.98" y2="469.7" class="tk"/>
<text x="414.98" y="482.6" text-anchor="middle" font-size="9.5">55000</text>
<line x1="446.4" y1="467.4" x2="446.4" y2="469.7" class="tk"/>
<text x="446.4" y="482.6" text-anchor="middle" font-size="9.5">60000</text>
<text x="263.2" y="344.9" text-anchor="start" font-size="9.5">RF</text>
<line x1="297.1" y1="383.1" x2="297.1" y2="442.2" class="eb"/><line x1="295.2" y1="383.1" x2="299" y2="383.1" class="cp"/><line x1="295.2" y1="442.2" x2="299" y2="442.2" class="cp"/><line x1="267.1" y1="413.1" x2="327.6" y2="413.1" class="eb"/><line x1="267.1" y1="411.2" x2="267.1" y2="415" class="cp"/><line x1="327.6" y1="411.2" x2="327.6" y2="415" class="cp"/>
<line x1="337.3" y1="370.2" x2="337.3" y2="404.5" class="eb"/><line x1="335.4" y1="370.2" x2="339.2" y2="370.2" class="cp"/><line x1="335.4" y1="404.5" x2="339.2" y2="404.5" class="cp"/><line x1="329.3" y1="387.4" x2="345.7" y2="387.4" class="eb"/><line x1="329.3" y1="385.5" x2="329.3" y2="389.3" class="cp"/><line x1="345.7" y1="385.5" x2="345.7" y2="389.3" class="cp"/>
<line x1="382.2" y1="364.6" x2="382.2" y2="406.8" class="eb"/><line x1="380.3" y1="364.6" x2="384.1" y2="364.6" class="cp"/><line x1="380.3" y1="406.8" x2="384.1" y2="406.8" class="cp"/><line x1="376.6" y1="386.1" x2="387.3" y2="386.1" class="eb"/><line x1="376.6" y1="384.2" x2="376.6" y2="388" class="cp"/><line x1="387.3" y1="384.2" x2="387.3" y2="388" class="cp"/>
<circle cx="297.1" cy="413.1" r="4.5" class="oc"/>
<circle cx="337.3" cy="387.4" r="4.5" class="oc"/>
<circle cx="382.2" cy="386.1" r="4.5" class="oc"/>
<line x1="364.6" y1="372.3" x2="364.6" y2="399.9" class="eb"/><line x1="362.7" y1="372.3" x2="366.5" y2="372.3" class="cp"/><line x1="362.7" y1="399.9" x2="366.5" y2="399.9" class="cp"/><line x1="356.2" y1="386.1" x2="373" y2="386.1" class="eb"/><line x1="356.2" y1="384.2" x2="356.2" y2="388" class="cp"/><line x1="373" y1="384.2" x2="373" y2="388" class="cp"/>
<circle cx="364.6" cy="386.1" r="4.7" class="fc"/>
<rect x="482.5" y="332.3" width="188.9" height="135.1" class="ax"/>
<line x1="480.2" y1="467.4" x2="482.5" y2="467.4" class="tk"/>
<text x="475.3" y="470.5" text-anchor="end" font-size="9.5">40</text>
<line x1="480.2" y1="440.38" x2="482.5" y2="440.38" class="tk"/>
<text x="475.3" y="443.48" text-anchor="end" font-size="9.5">60</text>
<line x1="480.2" y1="413.36" x2="482.5" y2="413.36" class="tk"/>
<text x="475.3" y="416.46" text-anchor="end" font-size="9.5">80</text>
<line x1="480.2" y1="386.34" x2="482.5" y2="386.34" class="tk"/>
<text x="475.3" y="389.44" text-anchor="end" font-size="9.5">100</text>
<line x1="480.2" y1="359.32" x2="482.5" y2="359.32" class="tk"/>
<text x="475.3" y="362.42" text-anchor="end" font-size="9.5">120</text>
<line x1="480.2" y1="332.3" x2="482.5" y2="332.3" class="tk"/>
<text x="475.3" y="335.4" text-anchor="end" font-size="9.5">140</text>
<line x1="482.5" y1="467.4" x2="482.5" y2="469.7" class="tk"/>
<text x="482.5" y="482.6" text-anchor="middle" font-size="9.5">30000</text>
<line x1="513.98" y1="467.4" x2="513.98" y2="469.7" class="tk"/>
<text x="513.98" y="482.6" text-anchor="middle" font-size="9.5">35000</text>
<line x1="545.47" y1="467.4" x2="545.47" y2="469.7" class="tk"/>
<text x="545.47" y="482.6" text-anchor="middle" font-size="9.5">40000</text>
<line x1="576.95" y1="467.4" x2="576.95" y2="469.7" class="tk"/>
<text x="576.95" y="482.6" text-anchor="middle" font-size="9.5">45000</text>
<line x1="608.43" y1="467.4" x2="608.43" y2="469.7" class="tk"/>
<text x="608.43" y="482.6" text-anchor="middle" font-size="9.5">50000</text>
<line x1="639.92" y1="467.4" x2="639.92" y2="469.7" class="tk"/>
<text x="639.92" y="482.6" text-anchor="middle" font-size="9.5">55000</text>
<line x1="671.4" y1="467.4" x2="671.4" y2="469.7" class="tk"/>
<text x="671.4" y="482.6" text-anchor="middle" font-size="9.5">60000</text>
<text x="487.1" y="345.5" text-anchor="start" font-size="9.5">WN</text>
<line x1="588.5" y1="361.3" x2="588.5" y2="403.1" class="eb"/><line x1="586.6" y1="361.3" x2="590.4" y2="361.3" class="cp"/><line x1="586.6" y1="403.1" x2="590.4" y2="403.1" class="cp"/><line x1="574.4" y1="382.1" x2="602.6" y2="382.1" class="eb"/><line x1="574.4" y1="380.2" x2="574.4" y2="384" class="cp"/><line x1="602.6" y1="380.2" x2="602.6" y2="384" class="cp"/>
<line x1="603.6" y1="373.4" x2="603.6" y2="412.9" class="eb"/><line x1="601.7" y1="373.4" x2="605.5" y2="373.4" class="cp"/><line x1="601.7" y1="412.9" x2="605.5" y2="412.9" class="cp"/><line x1="595.3" y1="392.8" x2="612.3" y2="392.8" class="eb"/><line x1="595.3" y1="390.9" x2="595.3" y2="394.7" class="cp"/><line x1="612.3" y1="390.9" x2="612.3" y2="394.7" class="cp"/>
<line x1="621.3" y1="353.2" x2="621.3" y2="413.7" class="eb"/><line x1="619.4" y1="353.2" x2="623.2" y2="353.2" class="cp"/><line x1="619.4" y1="413.7" x2="623.2" y2="413.7" class="cp"/><line x1="611.4" y1="383.4" x2="630.8" y2="383.4" class="eb"/><line x1="611.4" y1="381.5" x2="611.4" y2="385.3" class="cp"/><line x1="630.8" y1="381.5" x2="630.8" y2="385.3" class="cp"/>
<line x1="501.1" y1="421.4" x2="501.1" y2="440.2" class="eb"/><line x1="499.2" y1="421.4" x2="503" y2="421.4" class="cp"/><line x1="499.2" y1="440.2" x2="503" y2="440.2" class="cp"/><line x1="495.5" y1="430.8" x2="506.9" y2="430.8" class="eb"/><line x1="495.5" y1="428.9" x2="495.5" y2="432.7" class="cp"/><line x1="506.9" y1="428.9" x2="506.9" y2="432.7" class="cp"/>
<circle cx="588.5" cy="382.1" r="4.5" class="oc"/>
<circle cx="603.6" cy="392.8" r="4.5" class="oc"/>
<circle cx="621.3" cy="383.4" r="4.5" class="oc"/>
<circle cx="501.1" cy="430.8" r="4.5" class="oc"/>
<line x1="597.9" y1="354.5" x2="597.9" y2="406.6" class="eb"/><line x1="596" y1="354.5" x2="599.8" y2="354.5" class="cp"/><line x1="596" y1="406.6" x2="599.8" y2="406.6" class="cp"/><line x1="590.5" y1="380.5" x2="605.5" y2="380.5" class="eb"/><line x1="590.5" y1="378.6" x2="590.5" y2="382.4" class="cp"/><line x1="605.5" y1="378.6" x2="605.5" y2="382.4" class="cp"/>
<line x1="629.2" y1="387.6" x2="629.2" y2="447.6" class="eb"/><line x1="627.3" y1="387.6" x2="631.1" y2="387.6" class="cp"/><line x1="627.3" y1="447.6" x2="631.1" y2="447.6" class="cp"/><line x1="620.5" y1="417.6" x2="638.7" y2="417.6" class="eb"/><line x1="620.5" y1="415.7" x2="620.5" y2="419.5" class="cp"/><line x1="638.7" y1="415.7" x2="638.7" y2="419.5" class="cp"/>
<line x1="630.8" y1="387.6" x2="630.8" y2="399.6" class="eb"/><line x1="628.9" y1="387.6" x2="632.7" y2="387.6" class="cp"/><line x1="628.9" y1="399.6" x2="632.7" y2="399.6" class="cp"/><line x1="619.7" y1="393.6" x2="642.3" y2="393.6" class="eb"/><line x1="619.7" y1="391.7" x2="619.7" y2="395.5" class="cp"/><line x1="642.3" y1="391.7" x2="642.3" y2="395.5" class="cp"/>
<line x1="566.7" y1="436.4" x2="566.7" y2="460.2" class="eb"/><line x1="564.8" y1="436.4" x2="568.6" y2="436.4" class="cp"/><line x1="564.8" y1="460.2" x2="568.6" y2="460.2" class="cp"/><line x1="556.6" y1="448.3" x2="577.7" y2="448.3" class="eb"/><line x1="556.6" y1="446.4" x2="556.6" y2="450.2" class="cp"/><line x1="577.7" y1="446.4" x2="577.7" y2="450.2" class="cp"/>
<circle cx="597.9" cy="380.5" r="4.7" class="fc"/>
<circle cx="629.2" cy="417.6" r="4.7" class="fc"/>
<circle cx="630.8" cy="393.6" r="4.7" class="fc"/>
<circle cx="566.7" cy="448.3" r="4.7" class="fc"/>
<rect x="37.3" y="495.3" width="188.9" height="135.8" class="ax"/>
<line x1="35" y1="631.1" x2="37.3" y2="631.1" class="tk"/>
<text x="30.1" y="634.2" text-anchor="end" font-size="9.5">0</text>
<line x1="35" y1="611.7" x2="37.3" y2="611.7" class="tk"/>
<text x="30.1" y="614.8" text-anchor="end" font-size="9.5">20</text>
<line x1="35" y1="592.3" x2="37.3" y2="592.3" class="tk"/>
<text x="30.1" y="595.4" text-anchor="end" font-size="9.5">40</text>
<line x1="35" y1="572.9" x2="37.3" y2="572.9" class="tk"/>
<text x="30.1" y="576" text-anchor="end" font-size="9.5">60</text>
<line x1="35" y1="553.5" x2="37.3" y2="553.5" class="tk"/>
<text x="30.1" y="556.6" text-anchor="end" font-size="9.5">80</text>
<line x1="35" y1="534.1" x2="37.3" y2="534.1" class="tk"/>
<text x="30.1" y="537.2" text-anchor="end" font-size="9.5">100</text>
<line x1="35" y1="514.7" x2="37.3" y2="514.7" class="tk"/>
<text x="30.1" y="517.8" text-anchor="end" font-size="9.5">120</text>
<line x1="35" y1="495.3" x2="37.3" y2="495.3" class="tk"/>
<text x="30.1" y="498.4" text-anchor="end" font-size="9.5">140</text>
<line x1="37.3" y1="631.1" x2="37.3" y2="633.4" class="tk"/>
<text x="37.3" y="646.3" text-anchor="middle" font-size="9.5">10000</text>
<line x1="75.08" y1="631.1" x2="75.08" y2="633.4" class="tk"/>
<text x="75.08" y="646.3" text-anchor="middle" font-size="9.5">20000</text>
<line x1="112.86" y1="631.1" x2="112.86" y2="633.4" class="tk"/>
<text x="112.86" y="646.3" text-anchor="middle" font-size="9.5">30000</text>
<line x1="150.64" y1="631.1" x2="150.64" y2="633.4" class="tk"/>
<text x="150.64" y="646.3" text-anchor="middle" font-size="9.5">40000</text>
<line x1="188.42" y1="631.1" x2="188.42" y2="633.4" class="tk"/>
<text x="188.42" y="646.3" text-anchor="middle" font-size="9.5">50000</text>
<line x1="226.2" y1="631.1" x2="226.2" y2="633.4" class="tk"/>
<text x="226.2" y="646.3" text-anchor="middle" font-size="9.5">60000</text>
<text x="41.1" y="506.3" text-anchor="start" font-size="9.5">All soils</text>
<line x1="149.24" y1="516.06" x2="149.24" y2="542.26" class="eb"/><line x1="147.34" y1="516.06" x2="151.14" y2="516.06" class="cp"/><line x1="147.34" y1="542.26" x2="151.14" y2="542.26" class="cp"/>
<line x1="158.72" y1="538.61" x2="158.72" y2="542.48" class="eb"/><line x1="156.82" y1="538.61" x2="160.62" y2="538.61" class="cp"/><line x1="156.82" y1="542.48" x2="160.62" y2="542.48" class="cp"/>
<line x1="144.92" y1="545.05" x2="144.92" y2="580.63" class="eb"/><line x1="143.02" y1="545.05" x2="146.82" y2="545.05" class="cp"/><line x1="143.02" y1="580.63" x2="146.82" y2="580.63" class="cp"/><line x1="126.91" y1="562.66" x2="162.81" y2="562.66" class="eb"/><line x1="126.91" y1="560.76" x2="126.91" y2="564.56" class="cp"/><line x1="162.81" y1="560.76" x2="162.81" y2="564.56" class="cp"/>
<line x1="161.07" y1="531.69" x2="161.07" y2="570.52" class="eb"/><line x1="159.17" y1="531.69" x2="162.97" y2="531.69" class="cp"/><line x1="159.17" y1="570.52" x2="162.97" y2="570.52" class="cp"/><line x1="150.68" y1="551.11" x2="171.45" y2="551.11" class="eb"/><line x1="150.68" y1="549.21" x2="150.68" y2="553.01" class="cp"/><line x1="171.45" y1="549.21" x2="171.45" y2="553.01" class="cp"/>
<line x1="164.07" y1="524.6" x2="164.07" y2="541.94" class="eb"/><line x1="162.17" y1="524.6" x2="165.97" y2="524.6" class="cp"/><line x1="162.17" y1="541.94" x2="165.97" y2="541.94" class="cp"/><line x1="157.76" y1="533.34" x2="169.95" y2="533.34" class="eb"/><line x1="157.76" y1="531.44" x2="157.76" y2="535.24" class="cp"/><line x1="169.95" y1="531.44" x2="169.95" y2="535.24" class="cp"/>
<line x1="171.81" y1="541.15" x2="171.81" y2="561.57" class="eb"/><line x1="169.91" y1="541.15" x2="173.71" y2="541.15" class="cp"/><line x1="169.91" y1="561.57" x2="173.71" y2="561.57" class="cp"/><line x1="167.07" y1="551.32" x2="176.55" y2="551.32" class="eb"/><line x1="167.07" y1="549.42" x2="167.07" y2="553.22" class="cp"/><line x1="176.55" y1="549.42" x2="176.55" y2="553.22" class="cp"/>
<line x1="176.07" y1="526.03" x2="176.07" y2="549.53" class="eb"/><line x1="174.17" y1="526.03" x2="177.97" y2="526.03" class="cp"/><line x1="174.17" y1="549.53" x2="177.97" y2="549.53" class="cp"/><line x1="170.97" y1="537.78" x2="181.18" y2="537.78" class="eb"/><line x1="170.97" y1="535.88" x2="170.97" y2="539.68" class="cp"/><line x1="181.18" y1="535.88" x2="181.18" y2="539.68" class="cp"/>
<line x1="169.64" y1="528.37" x2="169.64" y2="551.62" class="eb"/><line x1="167.74" y1="528.37" x2="171.54" y2="528.37" class="cp"/><line x1="167.74" y1="551.62" x2="171.54" y2="551.62" class="cp"/>


<line x1="180.2" y1="523.13" x2="180.2" y2="533.04" class="eb"/><line x1="178.3" y1="523.13" x2="182.1" y2="523.13" class="cp"/><line x1="178.3" y1="533.04" x2="182.1" y2="533.04" class="cp"/>
<line x1="184.1" y1="532.18" x2="184.1" y2="547.86" class="eb"/><line x1="182.2" y1="532.18" x2="186" y2="532.18" class="cp"/><line x1="182.2" y1="547.86" x2="186" y2="547.86" class="cp"/>
<line x1="99.5" y1="554.75" x2="111.7" y2="554.75" class="eb"/><line x1="99.5" y1="552.85" x2="99.5" y2="556.65" class="cp"/><line x1="111.7" y1="552.85" x2="111.7" y2="556.65" class="cp"/>
<line x1="57.6" y1="588.52" x2="57.6" y2="599.81" class="eb"/><line x1="55.7" y1="588.52" x2="59.5" y2="588.52" class="cp"/><line x1="55.7" y1="599.81" x2="59.5" y2="599.81" class="cp"/>
<line x1="193.02" y1="536.2" x2="193.02" y2="543.19" class="eb"/><line x1="191.12" y1="536.2" x2="194.92" y2="536.2" class="cp"/><line x1="191.12" y1="543.19" x2="194.92" y2="543.19" class="cp"/><line x1="188.86" y1="539.7" x2="197.18" y2="539.7" class="eb"/><line x1="188.86" y1="537.8" x2="188.86" y2="541.6" class="cp"/><line x1="197.18" y1="537.8" x2="197.18" y2="541.6" class="cp"/>
<line x1="185.82" y1="539.91" x2="185.82" y2="547.05" class="eb"/><line x1="183.92" y1="539.91" x2="187.72" y2="539.91" class="cp"/><line x1="183.92" y1="547.05" x2="187.72" y2="547.05" class="cp"/><line x1="178.55" y1="543.48" x2="193.1" y2="543.48" class="eb"/><line x1="178.55" y1="541.58" x2="178.55" y2="545.38" class="cp"/><line x1="193.1" y1="541.58" x2="193.1" y2="545.38" class="cp"/>

<line x1="148" y1="558.54" x2="148" y2="583.02" class="eb"/><line x1="146.1" y1="558.54" x2="149.9" y2="558.54" class="cp"/><line x1="146.1" y1="583.02" x2="149.9" y2="583.02" class="cp"/><line x1="142.48" y1="570.89" x2="153.44" y2="570.89" class="eb"/><line x1="142.48" y1="568.99" x2="142.48" y2="572.79" class="cp"/><line x1="153.44" y1="568.99" x2="153.44" y2="572.79" class="cp"/>
<line x1="164.07" y1="526.48" x2="164.07" y2="541.95" class="eb"/><line x1="162.17" y1="526.48" x2="165.97" y2="526.48" class="cp"/><line x1="162.17" y1="541.95" x2="165.97" y2="541.95" class="cp"/>
<line x1="132.33" y1="557.15" x2="132.33" y2="574.42" class="eb"/><line x1="130.43" y1="557.15" x2="134.23" y2="557.15" class="cp"/><line x1="130.43" y1="574.42" x2="134.23" y2="574.42" class="cp"/><line x1="120.74" y1="565.48" x2="143.76" y2="565.48" class="eb"/><line x1="120.74" y1="563.58" x2="120.74" y2="567.38" class="cp"/><line x1="143.76" y1="563.58" x2="143.76" y2="567.38" class="cp"/>
<line x1="92.91" y1="583.09" x2="92.91" y2="595.89" class="eb"/><line x1="91.01" y1="583.09" x2="94.81" y2="583.09" class="cp"/><line x1="91.01" y1="595.89" x2="94.81" y2="595.89" class="cp"/><line x1="77.32" y1="589.79" x2="108.82" y2="589.79" class="eb"/><line x1="77.32" y1="587.89" x2="77.32" y2="591.69" class="cp"/><line x1="108.82" y1="587.89" x2="108.82" y2="591.69" class="cp"/>
<line x1="169.23" y1="513.43" x2="169.23" y2="539.62" class="eb"/><line x1="167.33" y1="513.43" x2="171.13" y2="513.43" class="cp"/><line x1="167.33" y1="539.62" x2="171.13" y2="539.62" class="cp"/><line x1="163.22" y1="526.56" x2="175.24" y2="526.56" class="eb"/><line x1="163.22" y1="524.66" x2="163.22" y2="528.46" class="cp"/><line x1="175.24" y1="524.66" x2="175.24" y2="528.46" class="cp"/>
<line x1="163.46" y1="526.92" x2="163.46" y2="555.76" class="eb"/><line x1="161.56" y1="526.92" x2="165.36" y2="526.92" class="cp"/><line x1="161.56" y1="555.76" x2="165.36" y2="555.76" class="cp"/><line x1="156.73" y1="541.62" x2="170.59" y2="541.62" class="eb"/><line x1="156.73" y1="539.72" x2="156.73" y2="543.52" class="cp"/><line x1="170.59" y1="539.72" x2="170.59" y2="543.52" class="cp"/>
<line x1="113.94" y1="531.7" x2="113.94" y2="550.97" class="eb"/><line x1="112.04" y1="531.7" x2="115.84" y2="531.7" class="cp"/><line x1="112.04" y1="550.97" x2="115.84" y2="550.97" class="cp"/>
<line x1="84.7" y1="569.89" x2="94.47" y2="569.89" class="eb"/><line x1="84.7" y1="567.99" x2="84.7" y2="571.79" class="cp"/><line x1="94.47" y1="567.99" x2="94.47" y2="571.79" class="cp"/>
<line x1="136.43" y1="532.26" x2="136.43" y2="574.35" class="eb"/><line x1="134.53" y1="532.26" x2="138.33" y2="532.26" class="cp"/><line x1="134.53" y1="574.35" x2="138.33" y2="574.35" class="cp"/><line x1="118.39" y1="553.63" x2="154.77" y2="553.63" class="eb"/><line x1="118.39" y1="551.73" x2="118.39" y2="555.53" class="cp"/><line x1="154.77" y1="551.73" x2="154.77" y2="555.53" class="cp"/>
<line x1="160.6" y1="523.08" x2="160.6" y2="547.5" class="eb"/><line x1="158.7" y1="523.08" x2="162.5" y2="523.08" class="cp"/><line x1="158.7" y1="547.5" x2="162.5" y2="547.5" class="cp"/><line x1="155.79" y1="535.32" x2="165.65" y2="535.32" class="eb"/><line x1="155.79" y1="533.42" x2="155.79" y2="537.22" class="cp"/><line x1="165.65" y1="533.42" x2="165.65" y2="537.22" class="cp"/>
<line x1="187.6" y1="519.09" x2="187.6" y2="549.14" class="eb"/><line x1="185.7" y1="519.09" x2="189.5" y2="519.09" class="cp"/><line x1="185.7" y1="549.14" x2="189.5" y2="549.14" class="cp"/><line x1="184.23" y1="534.4" x2="190.66" y2="534.4" class="eb"/><line x1="184.23" y1="532.5" x2="184.23" y2="536.3" class="cp"/><line x1="190.66" y1="532.5" x2="190.66" y2="536.3" class="cp"/>
<line x1="176.46" y1="516.12" x2="176.46" y2="546.13" class="eb"/><line x1="174.56" y1="516.12" x2="178.36" y2="516.12" class="cp"/><line x1="174.56" y1="546.13" x2="178.36" y2="546.13" class="cp"/><line x1="168" y1="531.06" x2="184.92" y2="531.06" class="eb"/><line x1="168" y1="529.16" x2="168" y2="532.96" class="cp"/><line x1="184.92" y1="529.16" x2="184.92" y2="532.96" class="cp"/>
<line x1="185.52" y1="524.81" x2="185.52" y2="553.17" class="eb"/><line x1="183.62" y1="524.81" x2="187.42" y2="524.81" class="cp"/><line x1="183.62" y1="553.17" x2="187.42" y2="553.17" class="cp"/><line x1="180.54" y1="538.74" x2="190.74" y2="538.74" class="eb"/><line x1="180.54" y1="536.84" x2="180.54" y2="540.64" class="cp"/><line x1="190.74" y1="536.84" x2="190.74" y2="540.64" class="cp"/>
<line x1="196.14" y1="510.31" x2="196.14" y2="553.74" class="eb"/><line x1="194.24" y1="510.31" x2="198.04" y2="510.31" class="cp"/><line x1="194.24" y1="553.74" x2="198.04" y2="553.74" class="cp"/><line x1="190.2" y1="531.99" x2="201.84" y2="531.99" class="eb"/><line x1="190.2" y1="530.09" x2="190.2" y2="533.89" class="cp"/><line x1="201.84" y1="530.09" x2="201.84" y2="533.89" class="cp"/>
<line x1="124.02" y1="559.27" x2="124.02" y2="572.77" class="eb"/><line x1="122.12" y1="559.27" x2="125.92" y2="559.27" class="cp"/><line x1="122.12" y1="572.77" x2="125.92" y2="572.77" class="cp"/><line x1="120.66" y1="566.02" x2="127.5" y2="566.02" class="eb"/><line x1="120.66" y1="564.12" x2="120.66" y2="567.92" class="cp"/><line x1="127.5" y1="564.12" x2="127.5" y2="567.92" class="cp"/>
<circle cx="149.24" cy="529.23" r="4.5" class="oc"/>
<circle cx="158.72" cy="538.61" r="4.5" class="oc"/>
<circle cx="144.92" cy="562.66" r="4.5" class="oc"/>
<circle cx="161.07" cy="551.11" r="4.5" class="oc"/>
<circle cx="164.07" cy="533.34" r="4.5" class="oc"/>
<circle cx="171.81" cy="551.32" r="4.5" class="oc"/>
<circle cx="176.07" cy="537.78" r="4.5" class="oc"/>
<circle cx="169.64" cy="540" r="4.5" class="oc"/>
<circle cx="141.4" cy="527.97" r="4.5" class="oc"/>
<circle cx="94.44" cy="590.31" r="4.5" class="oc"/>
<circle cx="180.2" cy="528.04" r="4.5" class="oc"/>
<circle cx="184.1" cy="540.02" r="4.5" class="oc"/>
<circle cx="105.4" cy="554.75" r="4.5" class="oc"/>
<circle cx="57.6" cy="594.12" r="4.5" class="oc"/>
<circle cx="193.02" cy="539.7" r="4.5" class="oc"/>
<circle cx="185.82" cy="543.48" r="4.5" class="oc"/>
<circle cx="97.95" cy="568.96" r="4.5" class="oc"/>
<circle cx="148" cy="570.89" r="4.5" class="oc"/>
<circle cx="164.07" cy="534.04" r="4.5" class="oc"/>
<circle cx="132.33" cy="565.48" r="4.5" class="oc"/>
<circle cx="92.91" cy="589.79" r="4.5" class="oc"/>
<circle cx="169.23" cy="526.56" r="4.5" class="oc"/>
<circle cx="163.46" cy="541.62" r="4.5" class="oc"/>
<circle cx="113.94" cy="541.19" r="4.5" class="oc"/>
<circle cx="89.5" cy="569.89" r="4.5" class="oc"/>
<circle cx="136.43" cy="553.63" r="4.5" class="oc"/>
<circle cx="160.6" cy="535.32" r="4.5" class="oc"/>
<circle cx="187.6" cy="534.4" r="4.5" class="oc"/>
<circle cx="176.46" cy="531.06" r="4.5" class="oc"/>
<circle cx="185.52" cy="538.74" r="4.5" class="oc"/>
<circle cx="196.14" cy="531.99" r="4.5" class="oc"/>
<circle cx="124.02" cy="566.02" r="4.5" class="oc"/>
<line x1="59.6" y1="577.2" x2="156" y2="546.3" stroke="#444" stroke-width="0.8" stroke-dasharray="4 3"/>
<line x1="57.4" y1="588.2" x2="156" y2="545.5" stroke="#444" stroke-width="0.8"/>
<line x1="185.8" y1="521.79" x2="185.8" y2="546.05" class="eb"/><line x1="183.9" y1="521.79" x2="187.7" y2="521.79" class="cp"/><line x1="183.9" y1="546.05" x2="187.7" y2="546.05" class="cp"/><line x1="180.64" y1="533.96" x2="191.2" y2="533.96" class="eb"/><line x1="180.64" y1="532.06" x2="180.64" y2="535.86" class="cp"/><line x1="191.2" y1="532.06" x2="191.2" y2="535.86" class="cp"/>
<line x1="179.26" y1="546.24" x2="179.26" y2="556.12" class="eb"/><line x1="177.36" y1="546.24" x2="181.16" y2="546.24" class="cp"/><line x1="177.36" y1="556.12" x2="181.16" y2="556.12" class="cp"/><line x1="175.23" y1="551.11" x2="183.28" y2="551.11" class="eb"/><line x1="175.23" y1="549.21" x2="175.23" y2="553.01" class="cp"/><line x1="183.28" y1="549.21" x2="183.28" y2="553.01" class="cp"/>
<line x1="181.66" y1="533.63" x2="181.66" y2="541.94" class="eb"/><line x1="179.76" y1="533.63" x2="183.56" y2="533.63" class="cp"/><line x1="179.76" y1="541.94" x2="183.56" y2="541.94" class="cp"/>

<line x1="169.64" y1="509.33" x2="169.64" y2="567.56" class="eb"/><line x1="167.74" y1="509.33" x2="171.54" y2="509.33" class="cp"/><line x1="167.74" y1="567.56" x2="171.54" y2="567.56" class="cp"/>
<line x1="176.84" y1="522.56" x2="176.84" y2="537.29" class="eb"/><line x1="174.94" y1="522.56" x2="178.74" y2="522.56" class="cp"/><line x1="174.94" y1="537.29" x2="178.74" y2="537.29" class="cp"/>
<line x1="185.4" y1="527.77" x2="185.4" y2="549.42" class="eb"/><line x1="183.5" y1="527.77" x2="187.3" y2="527.77" class="cp"/><line x1="183.5" y1="549.42" x2="187.3" y2="549.42" class="cp"/>
<line x1="132.6" y1="590.31" x2="132.6" y2="613.26" class="eb"/><line x1="130.7" y1="590.31" x2="134.5" y2="590.31" class="cp"/><line x1="130.7" y1="613.26" x2="134.5" y2="613.26" class="cp"/><line x1="125.4" y1="601.84" x2="140.12" y2="601.84" class="eb"/><line x1="125.4" y1="599.94" x2="125.4" y2="603.74" class="cp"/><line x1="140.12" y1="599.94" x2="140.12" y2="603.74" class="cp"/>
<line x1="165.3" y1="531.92" x2="183.7" y2="531.92" class="eb"/><line x1="165.3" y1="530.02" x2="165.3" y2="533.82" class="cp"/><line x1="183.7" y1="530.02" x2="183.7" y2="533.82" class="cp"/>

<line x1="126.4" y1="538.12" x2="126.4" y2="548.89" class="eb"/><line x1="124.5" y1="538.12" x2="128.3" y2="538.12" class="cp"/><line x1="124.5" y1="548.89" x2="128.3" y2="548.89" class="cp"/>
<line x1="59.7" y1="572.07" x2="59.7" y2="582.49" class="eb"/><line x1="57.8" y1="572.07" x2="61.6" y2="572.07" class="cp"/><line x1="57.8" y1="582.49" x2="61.6" y2="582.49" class="cp"/>
<line x1="182.38" y1="523.64" x2="182.38" y2="539.62" class="eb"/><line x1="180.48" y1="523.64" x2="184.28" y2="523.64" class="cp"/><line x1="180.48" y1="539.62" x2="184.28" y2="539.62" class="cp"/>
<line x1="179.02" y1="538.84" x2="190.06" y2="538.84" class="eb"/><line x1="179.02" y1="536.94" x2="179.02" y2="540.74" class="cp"/><line x1="190.06" y1="536.94" x2="190.06" y2="540.74" class="cp"/>
<line x1="157.44" y1="524.71" x2="157.44" y2="535.91" class="eb"/><line x1="155.54" y1="524.71" x2="159.34" y2="524.71" class="cp"/><line x1="155.54" y1="535.91" x2="159.34" y2="535.91" class="cp"/>
<line x1="111.62" y1="540.27" x2="111.62" y2="552.19" class="eb"/><line x1="109.72" y1="540.27" x2="113.52" y2="540.27" class="cp"/><line x1="109.72" y1="552.19" x2="113.52" y2="552.19" class="cp"/>
<line x1="177.19" y1="509.99" x2="177.19" y2="545.98" class="eb"/><line x1="175.29" y1="509.99" x2="179.09" y2="509.99" class="cp"/><line x1="175.29" y1="545.98" x2="179.09" y2="545.98" class="cp"/><line x1="173.35" y1="527.69" x2="181.02" y2="527.69" class="eb"/><line x1="173.35" y1="525.79" x2="173.35" y2="529.59" class="cp"/><line x1="181.02" y1="525.79" x2="181.02" y2="529.59" class="cp"/>
<line x1="179.26" y1="505.69" x2="179.26" y2="561.62" class="eb"/><line x1="177.36" y1="505.69" x2="181.16" y2="505.69" class="cp"/><line x1="177.36" y1="561.62" x2="181.16" y2="561.62" class="cp"/><line x1="170.87" y1="534.04" x2="187.82" y2="534.04" class="eb"/><line x1="170.87" y1="532.14" x2="170.87" y2="535.94" class="cp"/><line x1="187.82" y1="532.14" x2="187.82" y2="535.94" class="cp"/>
<line x1="146.08" y1="532.84" x2="146.08" y2="562.39" class="eb"/><line x1="144.18" y1="532.84" x2="147.98" y2="532.84" class="cp"/><line x1="144.18" y1="562.39" x2="147.98" y2="562.39" class="cp"/><line x1="138.97" y1="547.7" x2="153.52" y2="547.7" class="eb"/><line x1="138.97" y1="545.8" x2="138.97" y2="549.6" class="cp"/><line x1="153.52" y1="545.8" x2="153.52" y2="549.6" class="cp"/>
<line x1="160.01" y1="553.76" x2="160.01" y2="562.82" class="eb"/><line x1="158.11" y1="553.76" x2="161.91" y2="553.76" class="cp"/><line x1="158.11" y1="562.82" x2="161.91" y2="562.82" class="cp"/><line x1="155.93" y1="558.33" x2="164.58" y2="558.33" class="eb"/><line x1="155.93" y1="556.43" x2="155.93" y2="560.23" class="cp"/><line x1="164.58" y1="556.43" x2="164.58" y2="560.23" class="cp"/>
<line x1="172.84" y1="558.33" x2="183.41" y2="558.33" class="eb"/><line x1="172.84" y1="556.43" x2="172.84" y2="560.23" class="cp"/><line x1="183.41" y1="556.43" x2="183.41" y2="560.23" class="cp"/>
<line x1="186.62" y1="550.55" x2="202.48" y2="550.55" class="eb"/><line x1="186.62" y1="548.65" x2="186.62" y2="552.45" class="cp"/><line x1="202.48" y1="548.65" x2="202.48" y2="552.45" class="cp"/>
<line x1="126.28" y1="559.04" x2="126.28" y2="567.39" class="eb"/><line x1="124.38" y1="559.04" x2="128.18" y2="559.04" class="cp"/><line x1="124.38" y1="567.39" x2="128.18" y2="567.39" class="cp"/>
<line x1="177.02" y1="524.57" x2="177.02" y2="544.23" class="eb"/><line x1="175.12" y1="524.57" x2="178.92" y2="524.57" class="cp"/><line x1="175.12" y1="544.23" x2="178.92" y2="544.23" class="cp"/><line x1="171.97" y1="534.4" x2="182.07" y2="534.4" class="eb"/><line x1="171.97" y1="532.5" x2="171.97" y2="536.3" class="cp"/><line x1="182.07" y1="532.5" x2="182.07" y2="536.3" class="cp"/>
<line x1="182.1" y1="511.24" x2="182.1" y2="548.65" class="eb"/><line x1="180.2" y1="511.24" x2="184" y2="511.24" class="cp"/><line x1="180.2" y1="548.65" x2="184" y2="548.65" class="cp"/><line x1="177.66" y1="529.91" x2="186.66" y2="529.91" class="eb"/><line x1="177.66" y1="528.01" x2="177.66" y2="531.81" class="cp"/><line x1="186.66" y1="528.01" x2="186.66" y2="531.81" class="cp"/>
<line x1="200.88" y1="535" x2="200.88" y2="578.08" class="eb"/><line x1="198.98" y1="535" x2="202.78" y2="535" class="cp"/><line x1="198.98" y1="578.08" x2="202.78" y2="578.08" class="cp"/><line x1="195.66" y1="556.54" x2="206.58" y2="556.54" class="eb"/><line x1="195.66" y1="554.64" x2="195.66" y2="558.44" class="cp"/><line x1="206.58" y1="554.64" x2="206.58" y2="558.44" class="cp"/>
<line x1="201.84" y1="535" x2="201.84" y2="543.62" class="eb"/><line x1="199.94" y1="535" x2="203.74" y2="535" class="cp"/><line x1="199.94" y1="543.62" x2="203.74" y2="543.62" class="cp"/><line x1="195.18" y1="539.31" x2="208.74" y2="539.31" class="eb"/><line x1="195.18" y1="537.41" x2="195.18" y2="541.21" class="cp"/><line x1="208.74" y1="537.41" x2="208.74" y2="541.21" class="cp"/>
<line x1="163.38" y1="570.04" x2="163.38" y2="587.13" class="eb"/><line x1="161.48" y1="570.04" x2="165.28" y2="570.04" class="cp"/><line x1="161.48" y1="587.13" x2="165.28" y2="587.13" class="cp"/><line x1="157.32" y1="578.59" x2="169.98" y2="578.59" class="eb"/><line x1="157.32" y1="576.69" x2="157.32" y2="580.49" class="cp"/><line x1="169.98" y1="576.69" x2="169.98" y2="580.49" class="cp"/>
<circle cx="185.8" cy="533.96" r="4.7" class="fc"/>
<circle cx="179.26" cy="551.11" r="4.7" class="fc"/>
<circle cx="181.66" cy="537.78" r="4.7" class="fc"/>
<circle cx="183.4" cy="532.91" r="4.7" class="fc"/>
<circle cx="169.64" cy="538.4" r="4.7" class="fc"/>
<circle cx="176.84" cy="529.68" r="4.7" class="fc"/>
<circle cx="185.4" cy="538.4" r="4.7" class="fc"/>
<circle cx="132.6" cy="601.84" r="4.7" class="fc"/>
<circle cx="174.5" cy="531.92" r="4.7" class="fc"/>
<circle cx="186.6" cy="535.79" r="4.7" class="fc"/>
<circle cx="126.4" cy="543.46" r="4.7" class="fc"/>
<circle cx="59.7" cy="577.5" r="4.7" class="fc"/>
<circle cx="182.38" cy="531.63" r="4.7" class="fc"/>
<circle cx="184.54" cy="538.84" r="4.7" class="fc"/>
<circle cx="157.44" cy="530.49" r="4.7" class="fc"/>
<circle cx="111.62" cy="546.33" r="4.7" class="fc"/>
<circle cx="177.19" cy="527.69" r="4.7" class="fc"/>
<circle cx="179.26" cy="534.04" r="4.7" class="fc"/>
<circle cx="146.08" cy="547.7" r="4.7" class="fc"/>
<circle cx="160.01" cy="558.33" r="4.7" class="fc"/>
<circle cx="177.88" cy="558.33" r="4.7" class="fc"/>
<circle cx="194.31" cy="550.55" r="4.7" class="fc"/>
<circle cx="126.28" cy="563.25" r="4.7" class="fc"/>
<circle cx="177.02" cy="534.4" r="4.7" class="fc"/>
<circle cx="182.1" cy="529.91" r="4.7" class="fc"/>
<circle cx="200.88" cy="556.54" r="4.7" class="fc"/>
<circle cx="201.84" cy="539.31" r="4.7" class="fc"/>
<circle cx="163.38" cy="578.59" r="4.7" class="fc"/>
<line x1="159.3" y1="610.3" x2="179" y2="610.3" stroke="#888" stroke-width="0.9" stroke-dasharray="4 3"/>
<line x1="159.1" y1="621.4" x2="179.8" y2="621.4" stroke="#777" stroke-width="0.9"/>
<text x="185.2" y="613.6" text-anchor="start" font-size="9.5">R<tspan dy="-3">2</tspan><tspan dy="3">=0.65</tspan></text>
<text x="185.2" y="625.6" text-anchor="start" font-size="9.5">R<tspan dy="-3">2</tspan><tspan dy="3">=0.28</tspan></text>
<text x="267" y="662" text-anchor="start" font-size="9.5">Plant tissue K concentration (mg kg<tspan dy="-3.4">-1</tspan><tspan dy="3.4">)</tspan></text>
<text transform="translate(7.9 350) rotate(-90)" font-size="9.5">Relative dry matter (%)</text>
</svg>
</body></html>
